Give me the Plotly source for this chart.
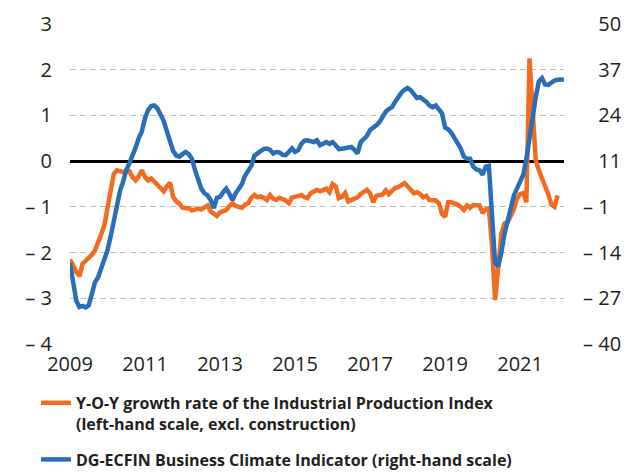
import plotly.graph_objects as go
import pandas as pd

# Monthly observations starting January 2009
ipi_growth = [
    -2.15, -2.3, -2.42, -2.52, -2.25, -2.18, -2.12, -2.05, -1.95, -1.8, -1.6, -1.4,
    -1.0, -0.63, -0.28, -0.2, -0.22, -0.24, -0.22, -0.22, -0.35, -0.42, -0.33, -0.2,
    -0.35, -0.42, -0.38, -0.45, -0.53, -0.62, -0.66, -0.55, -0.47, -0.78, -0.88, -0.93,
    -1.02, -1.03, -1.03, -1.08, -1.05, -1.04, -1.06, -1.02, -0.97, -1.1, -1.16, -1.2,
    -1.12, -1.1, -1.07, -0.98, -0.92, -0.98, -1.0, -1.02, -0.95, -0.92, -0.8, -0.74,
    -0.79, -0.77, -0.8, -0.85, -0.74, -0.82, -0.85, -0.8, -0.83, -0.86, -0.92, -0.8,
    -0.78, -0.76, -0.74, -0.79, -0.81, -0.7, -0.67, -0.63, -0.66, -0.63, -0.6, -0.68,
    -0.5, -0.55, -0.81, -0.78, -0.7, -0.88, -0.85, -0.83, -0.79, -0.72, -0.66, -0.63,
    -0.7, -0.9, -0.76, -0.74, -0.73, -0.64, -0.72, -0.65, -0.59, -0.57, -0.53, -0.48,
    -0.55, -0.64, -0.7, -0.68, -0.72, -0.79, -0.76, -0.85, -0.86, -0.86, -0.92, -1.15,
    -1.22, -0.9, -0.9, -0.92, -0.95, -1.0, -1.07, -0.97, -1.02, -0.96, -0.97, -0.97,
    -1.14, -1.05, -1.03, -1.85, -3.04, -2.25, -1.6, -1.36, -1.33, -1.2, -1.05, -0.82,
    -0.72, -0.7, -0.9, 2.25, 0.95, 0.02, -0.2, -0.4, -0.55, -0.72, -0.95, -1.0,
    -0.75,
]

business_climate = [
    -17.2, -23.3, -27.8, -29.6, -29.3, -29.7, -29.1, -25.9, -22.6, -21.2, -18.8, -16.2,
    -13.6, -9.8, -5.3, -0.8, 3.1, 5.6, 8.9, 10.8, 12.7, 15.3, 17.9, 19.8,
    23.6, 25.8, 26.9, 27.1, 26.2, 24.3, 22.7, 19.8, 16.6, 14.3, 13.0, 12.7,
    13.4, 14.0, 13.4, 12.1, 8.9, 6.0, 3.7, 2.4, 1.8, 0.5, -1.8, 1.1,
    1.4, 2.7, 3.7, 2.2, 0.5, 2.4, 3.7, 5.0, 7.3, 8.9, 10.1, 13.0,
    13.7, 14.5, 14.9, 15.0, 14.6, 13.6, 14.0, 13.9, 13.2, 13.1, 14.0, 15.0,
    14.0, 14.5, 16.3, 17.2, 17.3, 17.0, 16.8, 17.3, 15.9, 16.3, 16.8, 16.3,
    16.8, 15.9, 14.8, 14.9, 15.0, 15.3, 15.4, 14.6, 13.6, 16.8, 17.5, 18.5,
    20.2, 20.7, 21.5, 22.4, 24.0, 25.3, 26.1, 26.6, 28.1, 29.7, 30.7, 31.5,
    32.0, 31.4, 30.3, 29.2, 29.4, 28.9, 28.1, 27.1, 26.6, 27.1, 26.2, 24.9,
    20.9, 20.4, 19.4, 17.9, 16.6, 15.0, 12.7, 12.1, 12.1, 9.9, 9.1, 8.9,
    7.6, 9.9, 10.1, -4.0, -17.2, -18.1, -14.3, -9.1, -5.3, -0.8, 1.8, 3.7,
    5.6, 7.6, 12.1, 18.5, 24.3, 29.4, 33.9, 34.8, 33.0, 32.9, 33.5, 34.1,
    34.3, 34.4, 34.4,
]

left_ticks = [-4, -3, -2, -1, 0, 1, 2, 3]
left_labels = ["– 4", "– 3", "– 2", "– 1", "0", "1", "2", "3"]
right_labels = ["– 40", "– 27", "– 14", "– 1", "11", "24", "37", "50"]
year_labels = [2009, 2011, 2013, 2015, 2017, 2019, 2021]
year_ticks = list(range(2009, 2023))

months = pd.period_range("2009-01", periods=max(len(ipi_growth), len(business_climate)), freq="M")
xdec = [p.year + (p.month - 1) / 12 for p in months]

ORANGE = "#F26B21"
BLUE = "#2A6EB7"
TXT = "#231F20"
FONT = "Open Sans"

# positive right-axis labels are set as if they carried the "– " prefix
PAD = "<span style='color:rgba(0,0,0,0)'>– </span>"
right_text = [t if t.startswith("–") else PAD + t for t in right_labels]

fig = go.Figure()
fig.add_trace(go.Scatter(
    x=xdec[:len(ipi_growth)], y=ipi_growth, mode="lines",
    line=dict(color=ORANGE, width=4.5),
    name="Y-O-Y growth rate of the Industrial Production Index<br>(left-hand scale, excl. construction)",
    yaxis="y", legendgroup="ipi",
))
fig.add_trace(go.Scatter(
    x=xdec[:len(business_climate)], y=business_climate, mode="lines",
    line=dict(color=BLUE, width=4.5),
    name="DG-ECFIN Business Climate Indicator (right-hand scale)",
    yaxis="y2", legendgroup="bci",
))

xr = [2009, 2022.17]
rmin, rmax = -40, 50
right_ticks = [rmin + k * (rmax - rmin) / 7 for k in range(8)]

fig.update_layout(
    width=636, height=467,
    margin=dict(l=62, r=80, t=16, b=131, autoexpand=False),
    paper_bgcolor="white", plot_bgcolor="white",
    font=dict(family=FONT, color=TXT),
    showlegend=True,
    legend=dict(
        x=-0.0688, y=-0.131, xanchor="left", yanchor="top",
        font=dict(family=FONT, size=16, color=TXT, weight="bold"),
        valign="top", tracegroupgap=12, itemwidth=30,
        bgcolor="rgba(0,0,0,0)",
    ),
    xaxis=dict(
        range=xr, showgrid=False, zeroline=False, showline=False, automargin=False,
        tickvals=year_labels, ticktext=[str(y) for y in year_labels],
        ticks="", tickfont=dict(size=20, family=FONT, color=TXT),
        ticklabelstandoff=6,
    ),
    xaxis2=dict(
        range=xr, overlaying="x", anchor="free", position=4 / 7, automargin=False,
        showgrid=False, zeroline=False, showline=False,
        tickvals=year_ticks, ticks="outside", ticklen=6, tickwidth=2.5,
        tickcolor="black", showticklabels=False,
    ),
    yaxis=dict(
        range=[-4, 3], tickvals=left_ticks, ticktext=left_labels, automargin=False,
        showgrid=True, gridcolor="#BDBDBD", gridwidth=1.3, griddash="6px,4px",
        zeroline=True, zerolinecolor="black", zerolinewidth=3,
        showline=False, ticks="",
        tickfont=dict(size=20, family=FONT, color=TXT),
        ticklabelstandoff=17,
    ),
    yaxis2=dict(
        range=[rmin, rmax], overlaying="y", side="right", automargin=False,
        tickvals=right_ticks, ticktext=right_text,
        showgrid=False, zeroline=False, showline=False, ticks="",
        tickfont=dict(size=20, family=FONT, color=TXT),
        ticklabelstandoff=18,
    ),
)

fig.write_html("out.html")
